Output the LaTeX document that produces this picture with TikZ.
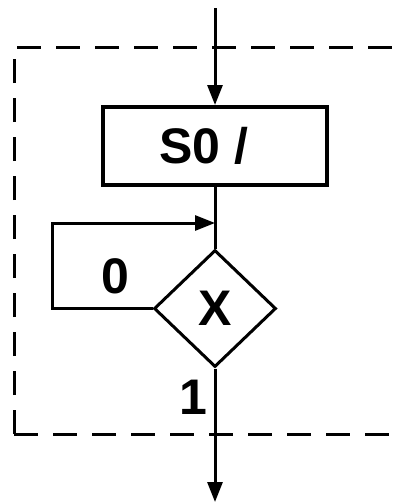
\documentclass[tikz,border=0pt]{standalone}
\usepackage{fontspec}
\setmainfont{Liberation Sans}
\usetikzlibrary{shapes.geometric,arrows.meta}
\begin{document}
\begin{tikzpicture}[x=0.5pt,y=-0.5pt,
  conn/.style={line width=1.5pt,-{Triangle[length=10pt,width=7.5pt]}},
  plain/.style={line width=1.5pt},
  statebox/.style={draw,line width=2pt,minimum width=112pt,minimum height=39pt,inner sep=0pt,
    font=\fontsize{25}{30}\selectfont\bfseries},
  decision/.style={draw,diamond,line width=1.5pt,minimum width=61pt,minimum height=58.5pt,inner sep=0pt,
    font=\fontsize{25}{30}\selectfont\bfseries},
  lbl/.style={font=\fontsize{25}{30}\selectfont\bfseries,inner sep=0pt},
  border/.style={line width=1.5pt,dash pattern=on 12pt off 7.5pt}]
\useasboundingbox (0,0) rectangle (400,503);
% dashed frame
\draw[border] (14,434) -- (14,47) -- (400,47);
\draw[border] (14,434) -- (400,434);
% nodes
\coordinate (start) at (215,8);
\node[statebox] (s0) at (215,146) {S0 /\kern11.5pt};
\node[decision] (x) at (215,308.5) {X};
\coordinate (join) at (215,223);
\coordinate (loopb) at (52,308.5);
\coordinate (loopt) at (52,223);
\coordinate (stop) at (215,502);
% connectors
\draw[conn] (start) -- (s0.north);
\draw[plain] (s0.south) -- (x.north);
\draw[conn] (x.west) -- (loopb) -- (loopt) -- (join);
\draw[conn] (x.south) -- (stop);
% labels
\node[lbl] (l0) at (115,276) {0};
\node[lbl] (l1) at (193,397) {1};
\end{tikzpicture}
\end{document}
